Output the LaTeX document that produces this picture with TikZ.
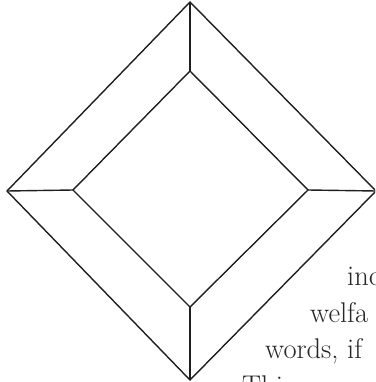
\documentclass[tikz,border=0pt]{standalone}
\usepackage{fontspec}
\setmainfont{Latin Modern Roman}
\begin{document}
\begin{tikzpicture}[x=1pt,y=-1pt,
  frame/.style={line width=1.4pt, line join=miter, draw=black!88},
  prose/.style={anchor=base west, inner sep=0pt, text=black!85, font=\fontsize{28.5}{34}\selectfont}]
\useasboundingbox (0,0) rectangle (375,382);
\clip (0,0) rectangle (375,382);
% outer vertices
\coordinate (ot) at (190,2);
\coordinate (ol) at (7,191);
\coordinate (or) at (376,191);
\coordinate (ob) at (190,380);
% inner vertices
\coordinate (it) at (190,71);
\coordinate (il) at (73,190);
\coordinate (ir) at (308,190);
\coordinate (ib) at (190,307);
\draw[frame] (ot) -- (or) -- (ob) -- (ol) -- cycle;
\draw[frame] (it) -- (ir) -- (ib) -- (il) -- cycle;
\draw[frame] (ot) -- (it);
\draw[frame] (ol) -- (il);
\draw[frame] (or) -- (ir);
\draw[frame] (ob) -- (ib);
% text
\node[prose] (t1) at (347,285) {inc};
\node[prose] (t2) at (310,322) {welfa};
\node[prose] (t3) at (265,358) {words, if};
\node[prose] (t4) at (242,395) {This};
\end{tikzpicture}
\end{document}
